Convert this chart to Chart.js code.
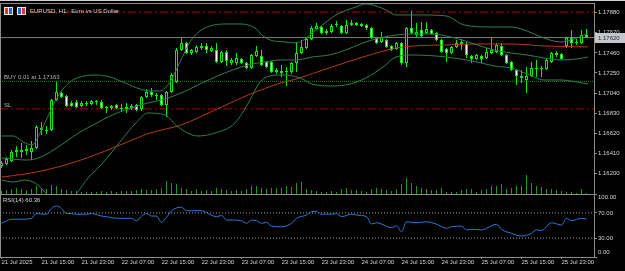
<!DOCTYPE html>
<html>
<head>
<meta charset="utf-8">
<script src="https://cdn.jsdelivr.net/npm/chart.js@4.4.1/dist/chart.umd.min.js"></script>
<style>
  html, body { margin: 0; padding: 0; background: #000; }
  body { width: 625px; height: 271px; position: relative; overflow: hidden; }
  #topbar { position: absolute; left: 0; top: 0; width: 625px; height: 1px; background: #d0d0d0; }
  #main { position: absolute; left: 0; top: 3px; }
  #rsi { position: absolute; left: 0; top: 194px; }
</style>
</head>
<body>
<div id="topbar"></div>
<canvas id="main" width="625" height="191"></canvas>
<canvas id="rsi" width="625" height="77"></canvas>
<script>
// EURUSD H1, one entry per bar (bar 0 = 21 Jul 07:00)
const open = [1.16278,1.16299,1.16331,1.16446,1.16446,1.16456,1.16425,1.16466,1.16675,1.16644,
  1.16654,1.16968,1.17041,1.17010,1.16937,1.16947,1.16905,1.16937,1.16926,1.16958,
  1.16947,1.16884,1.16884,1.16916,1.16884,1.16874,1.16884,1.16916,1.16874,1.16999,
  1.17052,1.17020,1.17020,1.16916,1.17052,1.17156,1.17491,1.17564,1.17459,1.17470,
  1.17532,1.17532,1.17480,1.17491,1.17365,1.17470,1.17355,1.17355,1.17397,1.17355,
  1.17302,1.17428,1.17428,1.17365,1.17365,1.17261,1.17271,1.17261,1.17261,1.17355,
  1.17459,1.17511,1.17605,1.17710,1.17731,1.17668,1.17679,1.17752,1.17741,1.17668,
  1.17752,1.17773,1.17741,1.17752,1.17720,1.17616,1.17574,1.17595,1.17532,1.17501,
  1.17564,1.17355,1.17720,1.17647,1.17700,1.17668,1.17700,1.17668,1.17595,1.17501,
  1.17459,1.17522,1.17553,1.17553,1.17428,1.17397,1.17428,1.17407,1.17459,1.17470,
  1.17532,1.17438,1.17365,1.17282,1.17198,1.17177,1.17219,1.17292,1.17302,1.17292,
  1.17365,1.17459,1.17449,1.17532,1.17616,1.17564,1.17564,1.17647];
const high = [1.16331,1.16372,1.16446,1.16487,1.16519,1.16498,1.16540,1.16707,1.16738,1.16696,
  1.16978,1.17156,1.17052,1.17020,1.16958,1.16968,1.16958,1.16958,1.16968,1.16968,
  1.16968,1.16905,1.16916,1.16926,1.16926,1.16937,1.16926,1.16926,1.17010,1.17083,
  1.17093,1.17041,1.17030,1.17062,1.17250,1.17511,1.17616,1.17574,1.17501,1.17543,
  1.17564,1.17564,1.17532,1.17564,1.17480,1.17491,1.17407,1.17459,1.17407,1.17365,
  1.17449,1.17532,1.17491,1.17376,1.17376,1.17302,1.17334,1.17313,1.17365,1.17574,
  1.17595,1.17626,1.17741,1.17773,1.17741,1.17710,1.17762,1.17794,1.17752,1.17804,
  1.17804,1.17783,1.17773,1.17762,1.17731,1.17626,1.17679,1.17605,1.17543,1.17574,
  1.17574,1.17731,1.17898,1.17773,1.17783,1.17783,1.17710,1.17679,1.17605,1.17511,
  1.17532,1.17595,1.17605,1.17574,1.17438,1.17449,1.17438,1.17511,1.17616,1.17564,
  1.17564,1.17449,1.17376,1.17292,1.17282,1.17313,1.17365,1.17386,1.17323,1.17397,
  1.17470,1.17480,1.17459,1.17626,1.17700,1.17605,1.17700,1.17710];
const low = [1.16257,1.16289,1.16320,1.16372,1.16362,1.16393,1.16341,1.16456,1.16602,1.16613,
  1.16644,1.16958,1.16989,1.16895,1.16895,1.16884,1.16895,1.16905,1.16916,1.16916,
  1.16874,1.16832,1.16863,1.16874,1.16843,1.16832,1.16863,1.16853,1.16853,1.16989,
  1.16999,1.16968,1.16905,1.16790,1.17041,1.17146,1.17480,1.17449,1.17438,1.17459,
  1.17491,1.17459,1.17470,1.17355,1.17355,1.17323,1.17334,1.17334,1.17344,1.17292,
  1.17292,1.17417,1.17323,1.17302,1.17250,1.17240,1.17208,1.17114,1.17240,1.17261,
  1.17449,1.17501,1.17595,1.17700,1.17658,1.17647,1.17668,1.17731,1.17658,1.17658,
  1.17741,1.17741,1.17731,1.17700,1.17605,1.17553,1.17564,1.17511,1.17480,1.17491,
  1.17334,1.17313,1.17658,1.17626,1.17626,1.17658,1.17647,1.17585,1.17459,1.17365,
  1.17449,1.17511,1.17491,1.17407,1.17355,1.17386,1.17355,1.17397,1.17449,1.17459,
  1.17428,1.17344,1.17271,1.17125,1.17146,1.17041,1.17208,1.17208,1.17208,1.17282,
  1.17355,1.17417,1.17386,1.17511,1.17511,1.17543,1.17553,1.17616];
const close = [1.16310,1.16351,1.16425,1.16425,1.16425,1.16435,1.16466,1.16686,1.16654,1.16654,
  1.16968,1.17052,1.16999,1.16905,1.16905,1.16895,1.16937,1.16926,1.16958,1.16947,
  1.16884,1.16895,1.16905,1.16884,1.16874,1.16895,1.16905,1.16863,1.16999,1.17052,
  1.17020,1.17010,1.16916,1.17052,1.17229,1.17491,1.17564,1.17459,1.17491,1.17522,
  1.17511,1.17491,1.17511,1.17365,1.17470,1.17376,1.17386,1.17407,1.17355,1.17302,
  1.17438,1.17480,1.17334,1.17313,1.17261,1.17282,1.17250,1.17271,1.17355,1.17459,
  1.17522,1.17605,1.17720,1.17741,1.17668,1.17689,1.17741,1.17762,1.17668,1.17752,
  1.17773,1.17752,1.17762,1.17720,1.17616,1.17564,1.17626,1.17522,1.17491,1.17564,
  1.17355,1.17720,1.17668,1.17679,1.17637,1.17710,1.17658,1.17595,1.17470,1.17459,
  1.17522,1.17564,1.17574,1.17438,1.17397,1.17438,1.17397,1.17470,1.17491,1.17543,
  1.17438,1.17355,1.17282,1.17219,1.17219,1.17219,1.17302,1.17302,1.17292,1.17386,
  1.17459,1.17438,1.17397,1.17616,1.17564,1.17574,1.17647,1.17620];
const volume = [900,1200,1500,1800,1500,1200,1500,2400,1800,1500,
  2700,2400,1500,1200,900,900,600,600,600,600,
  900,600,900,600,900,900,900,1200,1500,1200,
  1200,1500,1800,3900,3300,3000,1800,1500,900,1500,
  900,1200,900,1800,1500,1200,900,1200,900,1500,
  2400,2400,1800,1500,1800,1800,1800,2400,2100,3300,
  3600,1500,1200,900,600,600,900,600,1500,1800,
  1200,1200,900,600,1500,1800,1500,1200,900,1500,
  3000,4800,3300,2400,1800,1500,1200,1200,1800,600,
  600,600,1200,1500,1500,600,1200,1500,2400,2400,
  3000,1500,1800,2400,2400,5700,3300,2400,2100,1500,
  1500,1200,900,600,600,300,1500,300];

// Bollinger Bands (20) and moving average, read as [bar, price]
const bbUpper = [[0,1.16592],[2.3,1.16592],[4.7,1.16519],[6.1,1.16498],[7.7,1.16623],[9.7,1.16843],
  [11.7,1.17041],[13.7,1.17156],[15.7,1.17208],[18.7,1.17229],[21.7,1.17208],[24.7,1.17146],
  [27.7,1.17083],[29.7,1.17062],[31.7,1.17062],[33.7,1.17156],[35.7,1.17365],[37.7,1.17574],
  [39.7,1.17689],[41.7,1.17741],[44.7,1.17762],[47.7,1.17762],[50.7,1.17720],[52.1,1.17647],
  [53.7,1.17595],[56.7,1.17574],[58.9,1.17564],[62.9,1.17700],[66.9,1.17856],[70.9,1.17940],
  [72.9,1.17971],[74.9,1.17950],[76.9,1.17909],[78.9,1.17856],[83.7,1.17856],[88.9,1.17846],
  [92.5,1.17752],[97.7,1.17731],[101.9,1.17731],[105.1,1.17689],[107.9,1.17626],[111.9,1.17574],
  [115.1,1.17616],[117.3,1.17668]];
const bbMiddle = [[0,1.16362],[2.3,1.16351],[4.7,1.16341],[6.7,1.16351],[8.7,1.16393],[10.7,1.16456],
  [13.1,1.16540],[15.7,1.16634],[18.7,1.16717],[21.7,1.16801],[24.7,1.16863],[27.3,1.16905],
  [29.3,1.16937],[32.7,1.16978],[35.9,1.17041],[39.3,1.17125],[42.7,1.17208],[45.7,1.17271],
  [49.3,1.17334],[52.7,1.17365],[55.9,1.17386],[58.9,1.17386],[62.1,1.17417],[65.5,1.17438],
  [68.9,1.17491],[72.3,1.17564],[75.7,1.17616],[78.9,1.17647],[82.3,1.17658],[85.7,1.17658],
  [88.9,1.17637],[92.1,1.17595],[95.1,1.17543],[98.5,1.17491],[101.9,1.17459],[105.1,1.17438],
  [108.5,1.17407],[111.9,1.17386],[115.1,1.17397],[117.3,1.17417]];
const bbLower = [[0,1.16132],[2.3,1.16111],[4.7,1.16132],[6.7,1.16101],[8.3,1.16028],[9.7,1.15944],
  [11.7,1.15860],[13.7,1.15902],[15.1,1.15996],[17.3,1.16153],[19.7,1.16278],[22.1,1.16425],
  [24.3,1.16571],[26.7,1.16717],[29.3,1.16832],[32.7,1.16811],[35.3,1.16686],[39.3,1.16592],
  [42.7,1.16623],[46.7,1.16728],[49.7,1.16968],[51.7,1.17156],[53.7,1.17219],[56.3,1.17229],
  [59.7,1.17198],[62.1,1.17135],[66.3,1.17114],[69.7,1.17135],[72.9,1.17198],[76.3,1.17313],
  [78.9,1.17417],[82.3,1.17438],[88.9,1.17417],[95.1,1.17365],[98.5,1.17323],[101.9,1.17302],
  [105.1,1.17240],[108.5,1.17177],[111.9,1.17177],[115.1,1.17156],[117.3,1.17135]];
const maLine = [[0,1.16163],[4.7,1.16195],[9.7,1.16247],[14.7,1.16320],[19.7,1.16414],[24.7,1.16519],
  [29.7,1.16623],[35.9,1.16707],[42.7,1.16863],[49.3,1.17020],[55.9,1.17146],[58.9,1.17187],
  [65.5,1.17302],[72.3,1.17417],[78.9,1.17511],[82.3,1.17532],[88.9,1.17543],[95.1,1.17553],
  [101.9,1.17553],[108.5,1.17532],[117.3,1.17522]];

// RSI(14)
const rsiBars = [0,2,4,6,7,8,9,10,11,12,13,14,15,17,18,20,21,22,24,26,27,28,29,30,31,32,33,34,36,37,38,40,41,43,44,
  45,46,48,49,50,51,52,53,54,56,58,59,61,62,63,64,66,67,68,70,71,73,74,75,76,78,79,80,81,83,85,87,89,90,92,93,94,
  96,97,99,100,102,104,106,107,108,110,112,113,114,116,117];
const rsiValues = [53.5,59.8,60,61.4,69.3,68,68,77,81,77,69,69,67.7,68,69,65,64,62.4,61.4,61.4,57.6,65,69,65,65,55,63,73.5,79,
  73.5,73.5,73.5,70.3,64,66,58.7,58.7,57.6,53.5,58.7,57.6,53.5,55,49,48,53.5,61.4,66.6,72,72.5,68,68,69,64,68,66.6,64,
  52.4,54.4,52.4,46.5,49.7,40,56,54.4,56,52,45.6,48,49,42.9,44,42.9,45.6,52,44,37.6,33.3,37.6,42.9,42,54.4,50.8,61.4,
  57.6,61.4,60.36];

// trade levels
const tpPrice = 1.17887;
const bidPrice = 1.17620;
const buyPrice = 1.17163;
const slPrice = 1.16875;

const priceTicks = [1.1788, 1.1767, 1.1746, 1.1725, 1.1704, 1.1683, 1.1662, 1.1641, 1.1620];
const rsiTicks = [100, 70, 30, 0];
const timeTickBars = [0, 8, 16, 24, 32, 40, 48, 56, 64, 72, 80, 88, 96, 104, 112];
const timeLabels = ["21 Jul 2025", "21 Jul 15:00", "21 Jul 23:00", "22 Jul 07:00", "22 Jul 15:00",
  "22 Jul 23:00", "23 Jul 07:00", "23 Jul 15:00", "23 Jul 23:00", "24 Jul 07:00", "24 Jul 15:00",
  "24 Jul 23:00", "25 Jul 07:00", "25 Jul 15:00", "25 Jul 23:00"];

const FONT = { family: "'Liberation Sans', Arial, sans-serif", size: 6 };
const TXT = "#d4d4d4";
const AXIS = "#8c8c8c";
const CANDLE = "#00f000";
const X_MIN = -0.3, X_MAX = 118.5;

const bars = open.map((_, i) => i);
const pts = arr => arr.map(p => ({ x: p[0], y: p[1] }));
const hline = (v) => [{ x: X_MIN, y: v }, { x: X_MAX, y: v }];

const lineDs = (data, color, extra) => Object.assign({
  type: "line", data, borderColor: color, borderWidth: 1, pointRadius: 0,
  cubicInterpolationMode: "monotone", order: 1
}, extra || {});

const mainOverlay = {
  id: "mainOverlay",
  afterDraw(chart) {
    const { ctx, chartArea: a, scales: { y } } = chart;
    ctx.save();
    ctx.strokeStyle = AXIS;
    ctx.lineWidth = 1;
    ctx.beginPath();
    ctx.moveTo(0, 0.5); ctx.lineTo(a.right, 0.5);
    ctx.moveTo(0.5, 0); ctx.lineTo(0.5, a.bottom);
    ctx.stroke();

    // two small symbol icons
    [4, 17].forEach((ix, n) => {
      ctx.fillStyle = "#e8e8e8";
      ctx.fillRect(ix, 4, 9, 8);
      ctx.fillStyle = n === 0 ? "#d83a3a" : "#3a5cc8";
      ctx.fillRect(ix + 1, 5, 3, 6);
      ctx.fillStyle = n === 0 ? "#3a5cc8" : "#d83a3a";
      ctx.fillRect(ix + 5, 5, 3, 6);
    });

    ctx.font = `${FONT.size}px ${FONT.family}`;
    ctx.textBaseline = "middle";
    ctx.textAlign = "left";
    ctx.fillStyle = TXT;
    ctx.fillText("EURUSD, H1:  Euro vs US Dollar", 30, 8);

    ctx.fillStyle = "#b4b4b4";
    ctx.fillText("BUY 0.01 at " + buyPrice.toFixed(5), 4, y.getPixelForValue(buyPrice) - 4);
    ctx.fillText("SL", 4, y.getPixelForValue(slPrice) - 4);

    const by = Math.round(y.getPixelForValue(bidPrice));
    ctx.fillStyle = "#c4c6cc";
    ctx.fillRect(a.right + 1, by - 5, 30, 10);
    ctx.fillStyle = "#303030";
    ctx.fillText(bidPrice.toFixed(5), a.right + 4, by);
    ctx.restore();
  }
};

new Chart(document.getElementById("main"), {
  type: "bar",
  data: {
    datasets: [
      lineDs(pts(bbUpper), "#2e7d52"),
      lineDs(pts(bbMiddle), "#2e7d52"),
      lineDs(pts(bbLower), "#2e7d52"),
      lineDs(pts(maLine), "#b8381a"),
      {
        label: "body",
        data: bars.map(i => ({ x: i, y: [open[i], close[i]] })),
        backgroundColor: bars.map(i => close[i] < open[i] ? "#ffffff" : "#000000"),
        borderColor: CANDLE, borderWidth: 1, borderSkipped: false,
        barThickness: 3, grouped: false, inflateAmount: 0, order: 3
      },
      {
        label: "wick",
        data: bars.map(i => ({ x: i, y: [low[i], high[i]] })),
        backgroundColor: CANDLE, borderWidth: 0,
        barThickness: 1, grouped: false, inflateAmount: 0, order: 4
      },
      lineDs(hline(tpPrice), "#b40000", { borderDash: [8, 3, 2, 3], order: 5 }),
      lineDs(hline(bidPrice), "#7c7c7c", { order: 5 }),
      lineDs(hline(buyPrice), "#1f8f1f", { borderDash: [1, 1], order: 5 }),
      lineDs(hline(slPrice), "#b40000", { borderDash: [8, 3, 2, 3], order: 5 }),
      {
        label: "volume",
        data: bars.map(i => ({ x: i, y: volume[i] })),
        yAxisID: "v",
        backgroundColor: "#1f9a1f", borderWidth: 0,
        barThickness: 1, grouped: false, inflateAmount: 0, order: 6
      }
    ]
  },
  options: {
    responsive: false,
    animation: false,
    layout: { padding: 0, autoPadding: false },
    plugins: { legend: { display: false }, tooltip: { enabled: false } },
    scales: {
      x: { type: "linear", min: X_MIN, max: X_MAX, offset: false, grid: { offset: false }, display: false },
      y: {
        position: "right", min: 1.15986, max: 1.17981,
        afterBuildTicks: s => { s.ticks = priceTicks.map(v => ({ value: v })); },
        afterFit: s => { s.width = 31; s.paddingTop = 0; s.paddingBottom = 0; },
        ticks: { color: TXT, font: FONT, padding: 1, callback: v => Number(v).toFixed(5) },
        grid: { display: true, drawOnChartArea: false, drawTicks: true, tickLength: 3, color: AXIS },
        border: { display: true, color: AXIS }
      },
      v: { axis: "y", position: "left", display: false, min: 0, max: 57300 }
    }
  },
  plugins: [mainOverlay]
});

const rsiOverlay = {
  id: "rsiOverlay",
  afterDraw(chart) {
    const { ctx, chartArea: a, scales: { y } } = chart;
    ctx.save();
    ctx.strokeStyle = AXIS;
    ctx.lineWidth = 1;
    ctx.beginPath();
    ctx.moveTo(0, 0.5); ctx.lineTo(a.right, 0.5);
    ctx.moveTo(0.5, 0); ctx.lineTo(0.5, a.bottom);
    ctx.stroke();
    ctx.font = `${FONT.size}px ${FONT.family}`;
    ctx.textBaseline = "middle";
    ctx.textAlign = "left";
    ctx.fillStyle = TXT;
    ctx.fillText("RSI(14) " + rsiValues[rsiValues.length - 1].toFixed(2), 3, 6);
    rsiTicks.forEach(v => {
      const py = Math.min(Math.max(y.getPixelForValue(v), a.top + 3), a.bottom - 5);
      ctx.fillText(v.toFixed(2), a.right + 4, py);
    });
    ctx.restore();
  }
};

new Chart(document.getElementById("rsi"), {
  type: "line",
  data: {
    datasets: [
      lineDs(rsiBars.map((b, i) => ({ x: b, y: rsiValues[i] })), "#2a78d4"),
      lineDs(hline(70), "#a0a0a0", { borderDash: [1, 2], order: 2 }),
      lineDs(hline(30), "#a0a0a0", { borderDash: [1, 2], order: 2 })
    ]
  },
  options: {
    responsive: false,
    animation: false,
    layout: { padding: 0, autoPadding: false },
    plugins: { legend: { display: false }, tooltip: { enabled: false } },
    scales: {
      x: {
        type: "linear", min: X_MIN, max: X_MAX, position: "bottom", offset: false,
        afterBuildTicks: s => { s.ticks = timeTickBars.map(v => ({ value: v })); },
        afterFit: s => { s.height = 14; s.paddingLeft = 0; s.paddingRight = 0; },
        ticks: {
          autoSkip: false, maxRotation: 0, minRotation: 0, align: "start", padding: 0,
          color: TXT, font: FONT, callback: (v, i) => timeLabels[i]
        },
        grid: { display: true, drawOnChartArea: false, drawTicks: true, tickLength: 2, color: AXIS },
        border: { display: true, color: AXIS }
      },
      y: {
        position: "right", min: 0, max: 100,
        afterBuildTicks: s => { s.ticks = rsiTicks.map(v => ({ value: v })); },
        afterFit: s => { s.width = 31; s.paddingTop = 0; s.paddingBottom = 0; },
        ticks: { display: false },
        grid: { display: true, drawOnChartArea: false, drawTicks: true, tickLength: 3, color: AXIS },
        border: { display: true, color: AXIS }
      }
    }
  },
  plugins: [rsiOverlay]
});
</script>
</body>
</html>
